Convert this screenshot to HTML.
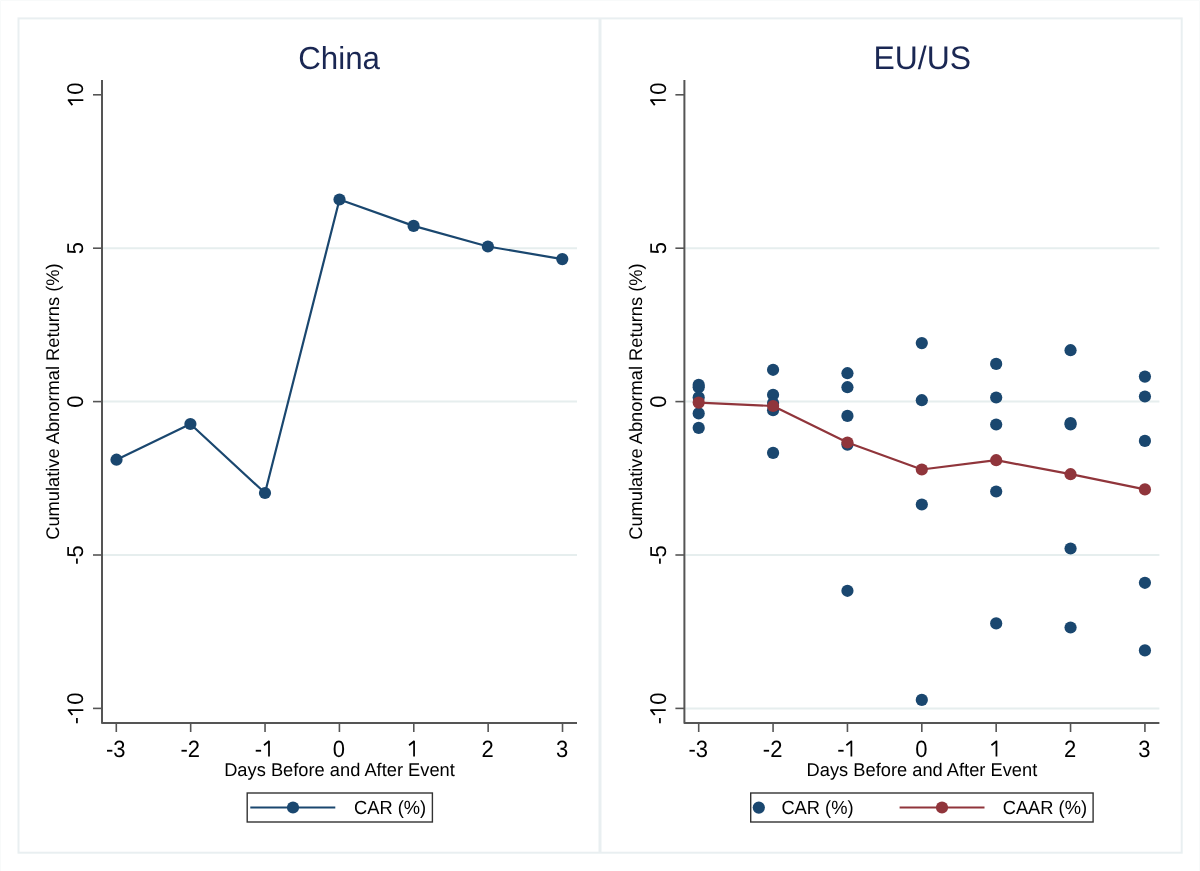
<!DOCTYPE html>
<html><head><meta charset="utf-8"><style>
html,body{margin:0;padding:0;background:#fff;}
body{width:1200px;height:871px;overflow:hidden;}
svg{display:block;font-family:"Liberation Sans", sans-serif;will-change:transform;}
</style></head><body>
<svg width="1200" height="871" viewBox="0 0 1200 871" fill="#000" text-rendering="geometricPrecision">
<rect x="0" y="0" width="1200" height="871" fill="#fff"/>
<path d="M0.5 871V0.5H1199.5V871" fill="none" stroke="#f8fafa" stroke-width="1"/>
<rect x="18.5" y="18.4" width="1163.2" height="834.3" fill="none" stroke="#e9eff1" stroke-width="2"/>
<line x1="600" y1="18" x2="600" y2="853" stroke="#e9eff1" stroke-width="3"/>
<line x1="103" y1="248.20" x2="577" y2="248.20" stroke="#e6eeee" stroke-width="2"/>
<line x1="103" y1="401.60" x2="577" y2="401.60" stroke="#e6eeee" stroke-width="2"/>
<line x1="103" y1="555.00" x2="577" y2="555.00" stroke="#e6eeee" stroke-width="2"/>
<polyline points="116.50,459.70 190.40,424.00 265.00,493.00 339.50,199.50 413.60,225.90 487.90,246.50 562.30,259.10" fill="none" stroke="#1a476f" stroke-width="2.2" stroke-linejoin="round"/><circle cx="116.50" cy="459.70" r="6.1" fill="#1a476f"/><circle cx="190.40" cy="424.00" r="6.1" fill="#1a476f"/><circle cx="265.00" cy="493.00" r="6.1" fill="#1a476f"/><circle cx="339.50" cy="199.50" r="6.1" fill="#1a476f"/><circle cx="413.60" cy="225.90" r="6.1" fill="#1a476f"/><circle cx="487.90" cy="246.50" r="6.1" fill="#1a476f"/><circle cx="562.30" cy="259.10" r="6.1" fill="#1a476f"/>
<path d="M102 80 V722.9 H577" fill="none" stroke="#555555" stroke-width="2" stroke-linejoin="round"/>
<line x1="93" y1="94.80" x2="102" y2="94.80" stroke="#555555" stroke-width="1.6"/>
<g transform="translate(83.3 94.80) rotate(-90)"><g transform="scale(1 1.04)" font-size="22.0"><path d="M-5.34 0V-14.86M-5.04 -14.50L-10.34 -10.50" fill="none" stroke="#000" stroke-width="1.75"/><text x="0.00" y="0">0</text></g></g>
<line x1="93" y1="248.20" x2="102" y2="248.20" stroke="#555555" stroke-width="1.6"/>
<g transform="translate(83.3 248.20) rotate(-90)"><g transform="scale(1 1.04)" font-size="22.0"><text x="-6.12" y="0">5</text></g></g>
<line x1="93" y1="401.60" x2="102" y2="401.60" stroke="#555555" stroke-width="1.6"/>
<g transform="translate(83.3 401.60) rotate(-90)"><g transform="scale(1 1.04)" font-size="22.0"><text x="-6.12" y="0">0</text></g></g>
<line x1="93" y1="555.00" x2="102" y2="555.00" stroke="#555555" stroke-width="1.6"/>
<g transform="translate(83.3 555.00) rotate(-90)"><g transform="scale(1 1.04)" font-size="22.0"><text x="-9.78" y="0">-</text><text x="-2.45" y="0">5</text></g></g>
<line x1="93" y1="708.40" x2="102" y2="708.40" stroke="#555555" stroke-width="1.6"/>
<g transform="translate(83.3 708.40) rotate(-90)"><g transform="scale(1 1.04)" font-size="22.0"><text x="-15.90" y="0">-</text><path d="M-1.67 0V-14.86M-1.37 -14.50L-6.67 -10.50" fill="none" stroke="#000" stroke-width="1.75"/><text x="3.66" y="0">0</text></g></g>
<line x1="116.30" y1="722.9" x2="116.30" y2="732" stroke="#555555" stroke-width="1.6"/>
<g transform="translate(115.80 756.6)"><g transform="scale(1 1.07)" font-size="22.0"><text x="-9.78" y="0">-</text><text x="-2.45" y="0">3</text></g></g>
<line x1="190.67" y1="722.9" x2="190.67" y2="732" stroke="#555555" stroke-width="1.6"/>
<g transform="translate(190.17 756.6)"><g transform="scale(1 1.07)" font-size="22.0"><text x="-9.78" y="0">-</text><text x="-2.45" y="0">2</text></g></g>
<line x1="265.04" y1="722.9" x2="265.04" y2="732" stroke="#555555" stroke-width="1.6"/>
<g transform="translate(264.54 756.6)"><g transform="scale(1 1.07)" font-size="22.0"><text x="-9.78" y="0">-</text><path d="M4.45 0V-14.86M4.75 -14.50L-0.55 -10.50" fill="none" stroke="#000" stroke-width="1.75"/></g></g>
<line x1="339.41" y1="722.9" x2="339.41" y2="732" stroke="#555555" stroke-width="1.6"/>
<g transform="translate(338.91 756.6)"><g transform="scale(1 1.07)" font-size="22.0"><text x="-6.12" y="0">0</text></g></g>
<line x1="413.78" y1="722.9" x2="413.78" y2="732" stroke="#555555" stroke-width="1.6"/>
<g transform="translate(413.28 756.6)"><g transform="scale(1 1.07)" font-size="22.0"><path d="M0.78 0V-14.86M1.08 -14.50L-4.22 -10.50" fill="none" stroke="#000" stroke-width="1.75"/></g></g>
<line x1="488.15" y1="722.9" x2="488.15" y2="732" stroke="#555555" stroke-width="1.6"/>
<g transform="translate(487.65 756.6)"><g transform="scale(1 1.07)" font-size="22.0"><text x="-6.12" y="0">2</text></g></g>
<line x1="562.52" y1="722.9" x2="562.52" y2="732" stroke="#555555" stroke-width="1.6"/>
<g transform="translate(562.02 756.6)"><g transform="scale(1 1.07)" font-size="22.0"><text x="-6.12" y="0">3</text></g></g>
<text transform="translate(339.10 69.3) scale(1.0 1.02)" text-anchor="middle" font-size="31.3" fill="#1a2753">China</text>
<text transform="translate(339.50 775.7) scale(1 1.01)" text-anchor="middle" font-size="18.3">Days Before and After Event</text>
<text transform="translate(59.1 401.6) rotate(-90) scale(1 1.0)" text-anchor="middle" font-size="18.3">Cumulative Abnormal Returns (%)</text>
<line x1="685.4" y1="248.20" x2="1159.4" y2="248.20" stroke="#e6eeee" stroke-width="2"/>
<line x1="685.4" y1="401.60" x2="1159.4" y2="401.60" stroke="#e6eeee" stroke-width="2"/>
<line x1="685.4" y1="555.00" x2="1159.4" y2="555.00" stroke="#e6eeee" stroke-width="2"/>
<line x1="685.4" y1="708.40" x2="1159.4" y2="708.40" stroke="#e6eeee" stroke-width="2"/>
<circle cx="698.70" cy="384.90" r="6.1" fill="#1a476f"/><circle cx="698.70" cy="387.30" r="6.1" fill="#1a476f"/><circle cx="698.70" cy="397.40" r="6.1" fill="#1a476f"/><circle cx="698.70" cy="413.40" r="6.1" fill="#1a476f"/><circle cx="698.70" cy="427.90" r="6.1" fill="#1a476f"/><circle cx="773.07" cy="369.80" r="6.1" fill="#1a476f"/><circle cx="773.07" cy="394.80" r="6.1" fill="#1a476f"/><circle cx="773.07" cy="403.00" r="6.1" fill="#1a476f"/><circle cx="773.07" cy="410.20" r="6.1" fill="#1a476f"/><circle cx="773.07" cy="452.90" r="6.1" fill="#1a476f"/><circle cx="847.44" cy="373.20" r="6.1" fill="#1a476f"/><circle cx="847.44" cy="387.20" r="6.1" fill="#1a476f"/><circle cx="847.44" cy="415.90" r="6.1" fill="#1a476f"/><circle cx="847.44" cy="444.60" r="6.1" fill="#1a476f"/><circle cx="847.44" cy="590.80" r="6.1" fill="#1a476f"/><circle cx="921.81" cy="343.10" r="6.1" fill="#1a476f"/><circle cx="921.81" cy="400.20" r="6.1" fill="#1a476f"/><circle cx="921.81" cy="504.50" r="6.1" fill="#1a476f"/><circle cx="921.81" cy="699.90" r="6.1" fill="#1a476f"/><circle cx="996.18" cy="363.90" r="6.1" fill="#1a476f"/><circle cx="996.18" cy="397.50" r="6.1" fill="#1a476f"/><circle cx="996.18" cy="424.50" r="6.1" fill="#1a476f"/><circle cx="996.18" cy="491.50" r="6.1" fill="#1a476f"/><circle cx="996.18" cy="623.40" r="6.1" fill="#1a476f"/><circle cx="1070.55" cy="350.20" r="6.1" fill="#1a476f"/><circle cx="1070.55" cy="423.00" r="6.1" fill="#1a476f"/><circle cx="1070.55" cy="424.50" r="6.1" fill="#1a476f"/><circle cx="1070.55" cy="548.50" r="6.1" fill="#1a476f"/><circle cx="1070.55" cy="627.50" r="6.1" fill="#1a476f"/><circle cx="1144.92" cy="376.60" r="6.1" fill="#1a476f"/><circle cx="1144.92" cy="396.50" r="6.1" fill="#1a476f"/><circle cx="1144.92" cy="440.90" r="6.1" fill="#1a476f"/><circle cx="1144.92" cy="582.80" r="6.1" fill="#1a476f"/><circle cx="1144.92" cy="650.40" r="6.1" fill="#1a476f"/><polyline points="698.70,402.60 773.07,406.00 847.44,442.50 921.81,469.50 996.18,460.20 1070.55,474.20 1144.92,489.40" fill="none" stroke="#90353b" stroke-width="2.2" stroke-linejoin="round"/><circle cx="698.70" cy="402.60" r="6.1" fill="#90353b"/><circle cx="773.07" cy="406.00" r="6.1" fill="#90353b"/><circle cx="847.44" cy="442.50" r="6.1" fill="#90353b"/><circle cx="921.81" cy="469.50" r="6.1" fill="#90353b"/><circle cx="996.18" cy="460.20" r="6.1" fill="#90353b"/><circle cx="1070.55" cy="474.20" r="6.1" fill="#90353b"/><circle cx="1144.92" cy="489.40" r="6.1" fill="#90353b"/>
<path d="M684.4 80 V722.9 H1159.4" fill="none" stroke="#555555" stroke-width="2" stroke-linejoin="round"/>
<line x1="675.4" y1="94.80" x2="684.4" y2="94.80" stroke="#555555" stroke-width="1.6"/>
<g transform="translate(665.6999999999999 94.80) rotate(-90)"><g transform="scale(1 1.04)" font-size="22.0"><path d="M-5.34 0V-14.86M-5.04 -14.50L-10.34 -10.50" fill="none" stroke="#000" stroke-width="1.75"/><text x="0.00" y="0">0</text></g></g>
<line x1="675.4" y1="248.20" x2="684.4" y2="248.20" stroke="#555555" stroke-width="1.6"/>
<g transform="translate(665.6999999999999 248.20) rotate(-90)"><g transform="scale(1 1.04)" font-size="22.0"><text x="-6.12" y="0">5</text></g></g>
<line x1="675.4" y1="401.60" x2="684.4" y2="401.60" stroke="#555555" stroke-width="1.6"/>
<g transform="translate(665.6999999999999 401.60) rotate(-90)"><g transform="scale(1 1.04)" font-size="22.0"><text x="-6.12" y="0">0</text></g></g>
<line x1="675.4" y1="555.00" x2="684.4" y2="555.00" stroke="#555555" stroke-width="1.6"/>
<g transform="translate(665.6999999999999 555.00) rotate(-90)"><g transform="scale(1 1.04)" font-size="22.0"><text x="-9.78" y="0">-</text><text x="-2.45" y="0">5</text></g></g>
<line x1="675.4" y1="708.40" x2="684.4" y2="708.40" stroke="#555555" stroke-width="1.6"/>
<g transform="translate(665.6999999999999 708.40) rotate(-90)"><g transform="scale(1 1.04)" font-size="22.0"><text x="-15.90" y="0">-</text><path d="M-1.67 0V-14.86M-1.37 -14.50L-6.67 -10.50" fill="none" stroke="#000" stroke-width="1.75"/><text x="3.66" y="0">0</text></g></g>
<line x1="698.70" y1="722.9" x2="698.70" y2="732" stroke="#555555" stroke-width="1.6"/>
<g transform="translate(698.20 756.6)"><g transform="scale(1 1.07)" font-size="22.0"><text x="-9.78" y="0">-</text><text x="-2.45" y="0">3</text></g></g>
<line x1="773.07" y1="722.9" x2="773.07" y2="732" stroke="#555555" stroke-width="1.6"/>
<g transform="translate(772.57 756.6)"><g transform="scale(1 1.07)" font-size="22.0"><text x="-9.78" y="0">-</text><text x="-2.45" y="0">2</text></g></g>
<line x1="847.44" y1="722.9" x2="847.44" y2="732" stroke="#555555" stroke-width="1.6"/>
<g transform="translate(846.94 756.6)"><g transform="scale(1 1.07)" font-size="22.0"><text x="-9.78" y="0">-</text><path d="M4.45 0V-14.86M4.75 -14.50L-0.55 -10.50" fill="none" stroke="#000" stroke-width="1.75"/></g></g>
<line x1="921.81" y1="722.9" x2="921.81" y2="732" stroke="#555555" stroke-width="1.6"/>
<g transform="translate(921.31 756.6)"><g transform="scale(1 1.07)" font-size="22.0"><text x="-6.12" y="0">0</text></g></g>
<line x1="996.18" y1="722.9" x2="996.18" y2="732" stroke="#555555" stroke-width="1.6"/>
<g transform="translate(995.68 756.6)"><g transform="scale(1 1.07)" font-size="22.0"><path d="M0.78 0V-14.86M1.08 -14.50L-4.22 -10.50" fill="none" stroke="#000" stroke-width="1.75"/></g></g>
<line x1="1070.55" y1="722.9" x2="1070.55" y2="732" stroke="#555555" stroke-width="1.6"/>
<g transform="translate(1070.05 756.6)"><g transform="scale(1 1.07)" font-size="22.0"><text x="-6.12" y="0">2</text></g></g>
<line x1="1144.92" y1="722.9" x2="1144.92" y2="732" stroke="#555555" stroke-width="1.6"/>
<g transform="translate(1144.42 756.6)"><g transform="scale(1 1.07)" font-size="22.0"><text x="-6.12" y="0">3</text></g></g>
<text transform="translate(922.30 69.3) scale(1.02 1.04)" text-anchor="middle" font-size="31.3" fill="#1a2753">EU/US</text>
<text transform="translate(921.90 775.7) scale(1 1.01)" text-anchor="middle" font-size="18.3">Days Before and After Event</text>
<text transform="translate(641.5 401.6) rotate(-90) scale(1 1.0)" text-anchor="middle" font-size="18.3">Cumulative Abnormal Returns (%)</text>

<rect x="247.2" y="793" width="185.2" height="29" fill="#fff" stroke="#333" stroke-width="1.4"/>
<line x1="250.3" y1="807.5" x2="335.3" y2="807.5" stroke="#1a476f" stroke-width="2.2"/>
<circle cx="293.00" cy="807.50" r="6.1" fill="#1a476f"/>
<text transform="translate(354.0 814.3) scale(1 1.04)" font-size="18.3">CAR (%)</text>
<rect x="750.7" y="793" width="342.4" height="29" fill="#fff" stroke="#333" stroke-width="1.4"/>
<circle cx="758.80" cy="807.60" r="6.1" fill="#1a476f"/>
<text transform="translate(781.4 814.3) scale(1 1.04)" font-size="18.3">CAR (%)</text>
<line x1="899.6" y1="807.5" x2="984.5" y2="807.5" stroke="#90353b" stroke-width="2.2"/>
<circle cx="942.00" cy="807.50" r="6.1" fill="#90353b"/>
<text transform="translate(1002.7 814.3) scale(1 1.04)" font-size="18.3">CAAR (%)</text>

</svg>
</body></html>
